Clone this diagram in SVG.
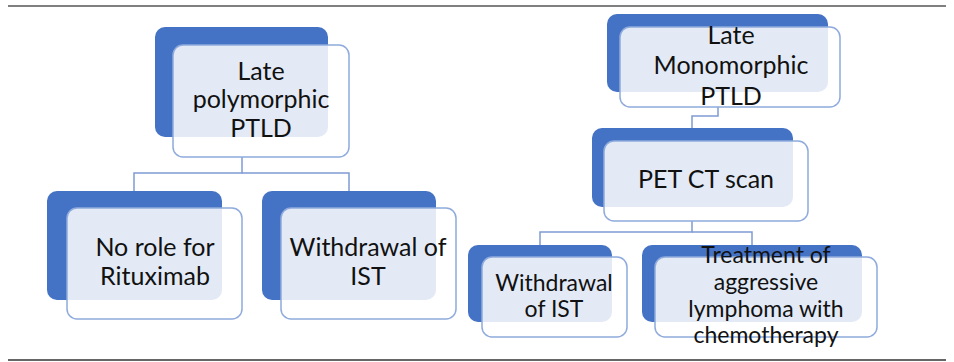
<svg xmlns="http://www.w3.org/2000/svg" width="954" height="362" viewBox="0 0 954 362">
<style>
.back{fill:#4472C4;}
.front{fill:#ffffff;fill-opacity:0.85;stroke:#8FAADC;stroke-width:1.5;}
.conn{fill:none;stroke:#7F9BD3;stroke-width:1.5;}
.rule{stroke:#808080;stroke-width:2;}
text{font-family:"Lato","Liberation Sans",sans-serif;fill:#111;text-anchor:middle;}
.t1{font-size:25px;}
.t2{font-size:23px;}
</style>
<rect width="954" height="362" fill="#ffffff"/>
<line class="rule" x1="8" y1="6" x2="946" y2="6"/>
<line class="rule" x1="8" y1="360" x2="946" y2="360" style="stroke:#666"/>
<g id="connectors">
<polyline class="conn" points="242,157 242,173 134,173 134,191"/>
<polyline class="conn" points="242,173 349,173 349,191"/>
<polyline class="conn" points="718,107 718,116 692,116 692,128"/>
<polyline class="conn" points="692,221 692,232 540,232 540,245"/>
<polyline class="conn" points="692,232 752,232 752,245"/>
</g>
<g id="late-polymorphic">
<rect class="back" x="155" y="27" width="173" height="110" rx="10"/>
<rect class="front" x="173" y="45" width="176" height="112" rx="10"/>
<text class="t1" x="261" y="80">Late</text>
<text class="t1" x="261" y="108">polymorphic</text>
<text class="t1" x="261" y="137">PTLD</text>
</g>
<g id="no-role">
<rect class="back" x="47" y="191" width="175" height="109" rx="10"/>
<rect class="front" x="67" y="208" width="175" height="111" rx="10"/>
<text class="t1" x="155" y="256">No role for</text>
<text class="t1" x="155" y="285">Rituximab</text>
</g>
<g id="withdrawal-left">
<rect class="back" x="262" y="191" width="174" height="109" rx="10"/>
<rect class="front" x="281" y="208" width="175" height="111" rx="10"/>
<text class="t1" x="368" y="256">Withdrawal of</text>
<text class="t1" x="368" y="285">IST</text>
</g>
<g id="late-monomorphic">
<rect class="back" x="607" y="14" width="221" height="78" rx="10"/>
<rect class="front" x="620" y="27" width="220" height="80" rx="10"/>
<text class="t1" x="731" y="44">Late</text>
<text class="t1" x="731" y="74">Monomorphic</text>
<text class="t1" x="731" y="105">PTLD</text>
</g>
<g id="pet-ct">
<rect class="back" x="592" y="128" width="201" height="79" rx="10"/>
<rect class="front" x="604" y="141" width="204" height="80" rx="10"/>
<text class="t1" x="706" y="188">PET CT scan</text>
</g>
<g id="withdrawal-right">
<rect class="back" x="468" y="245" width="144" height="77" rx="10"/>
<rect class="front" x="482" y="257" width="145" height="80" rx="10"/>
<text class="t2" x="554" y="291">Withdrawal</text>
<text class="t2" x="554" y="317">of IST</text>
</g>
<g id="treatment">
<rect class="back" x="642" y="245" width="220" height="77" rx="10"/>
<rect class="front" x="655" y="257" width="222" height="80" rx="10"/>
<text class="t2" x="766" y="263">Treatment of</text>
<text class="t2" x="766" y="290">aggressive</text>
<text class="t2" x="766" y="317">lymphoma with</text>
<text class="t2" x="766" y="343">chemotherapy</text>
</g>
</svg>
